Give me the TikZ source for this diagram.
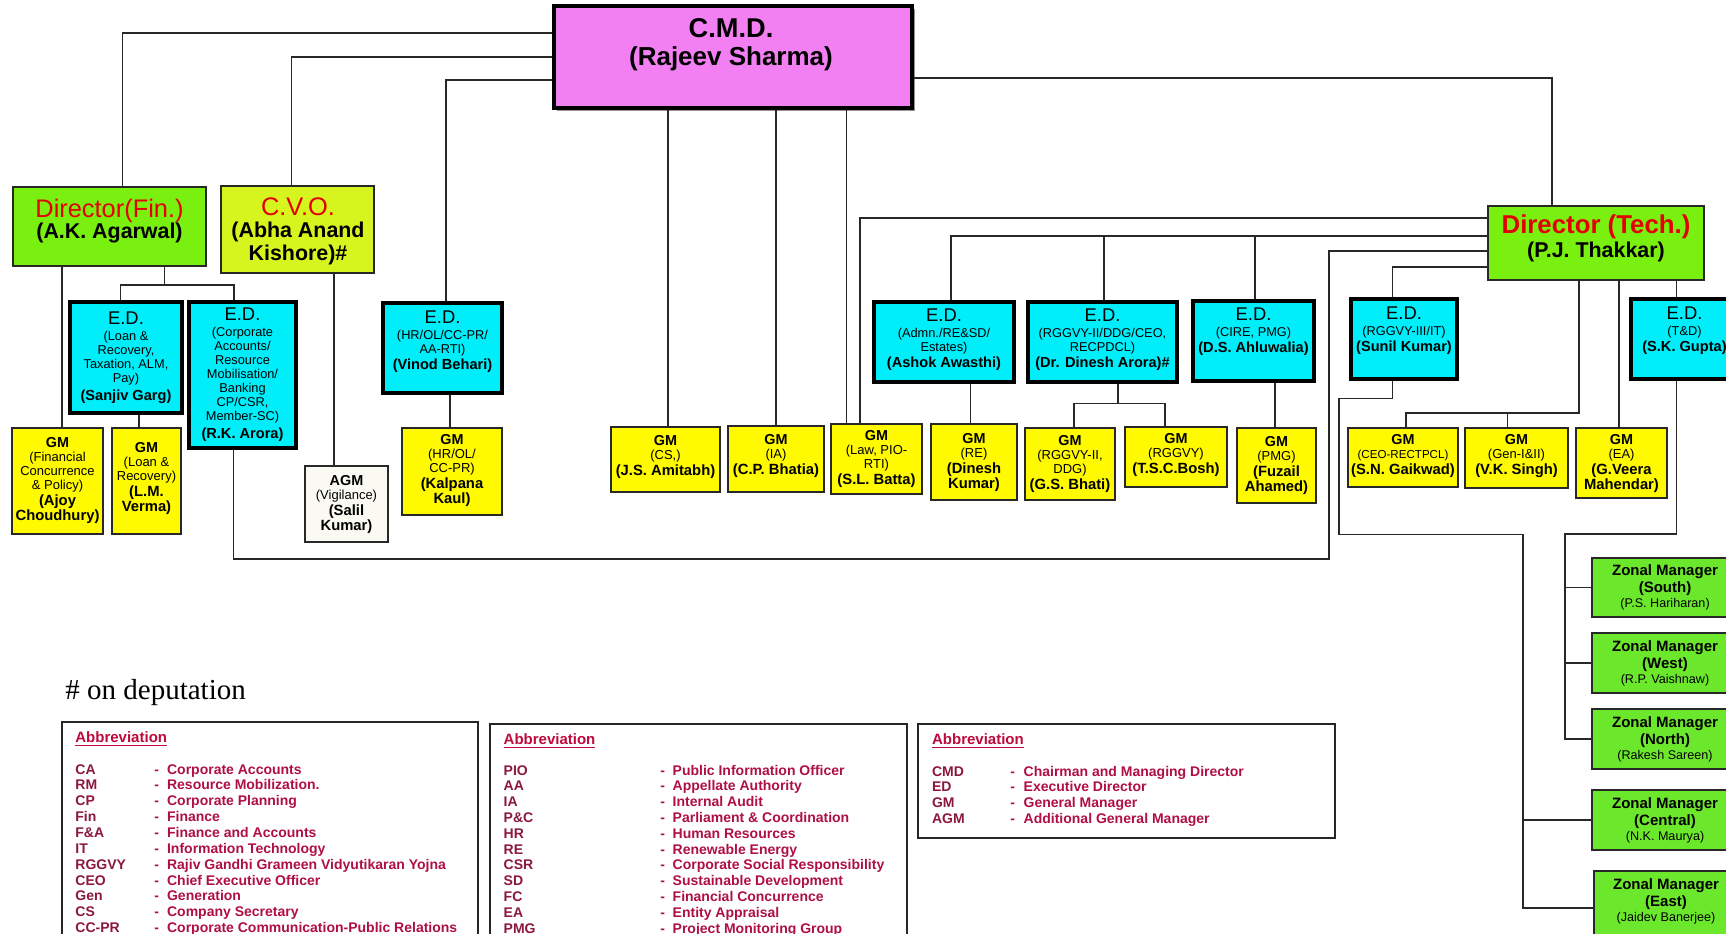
\documentclass[tikz,border=0pt]{standalone}
\usepackage{fontspec}
\setmainfont{Liberation Sans}
\newfontfamily\tms{Liberation Serif}
\usetikzlibrary{shadows}
\definecolor{cmdpink}{RGB}{242,128,242}
\definecolor{dgreen}{RGB}{122,240,16}
\definecolor{cvoyel}{RGB}{214,245,30}
\definecolor{edcyan}{RGB}{0,238,250}
\definecolor{gmyel}{RGB}{255,250,0}
\definecolor{agmw}{RGB}{250,250,242}
\definecolor{zgreen}{RGB}{108,232,44}
\definecolor{tred}{RGB}{228,0,0}
\definecolor{lgabbr}{RGB}{140,25,60}
\definecolor{lgdesc}{RGB}{175,15,70}
\definecolor{lghead}{RGB}{190,10,60}
\definecolor{lnc}{RGB}{40,40,40}
\newcommand\xE{\fontsize{9.2}{7}\selectfont}
\newcommand\xD{\fontsize{6.4}{7}\selectfont}
\newcommand\xN{\fontsize{7.3}{7}\selectfont\bfseries}
\newcommand\xG{\fontsize{7.2}{7}\selectfont\bfseries}
\newcommand\xGD{\fontsize{6.5}{7}\selectfont}
\newcommand\xGN{\fontsize{7.4}{7}\selectfont\bfseries}
\newcommand\xZ{\fontsize{7.5}{7}\selectfont\bfseries}
\newcommand\xZD{\fontsize{6.3}{7}\selectfont}
\newcommand\bxo[6]{\node[#2, minimum width={(#5-#3)*0.5pt}, minimum height={(#6-#4)*0.5pt}] (#1) at ({(#3+#5)/2},{(#4+#6)/2}) {};}
\newcommand\bx[8]{\bxo{#1}{#2}{#3}{#4}{#5}{#6}\node[txt] (#1T) at ({(#3+#5)/2},{(#4+#6)/2+#7}) {#8};}
\tikzset{
 obox/.style={draw=lnc, rectangle, inner sep=0pt},
 gmbox/.style={obox, fill=gmyel, line width=0.8pt},
 edbox/.style={obox, fill=edcyan, line width=1.8pt, draw=black},
 dirbox/.style={obox, fill=dgreen, line width=0.8pt},
 cvobox/.style={obox, fill=cvoyel, line width=0.8pt},
 agmbox/.style={obox, fill=agmw, line width=0.8pt},
 zbox/.style={obox, fill=zgreen, line width=0.9pt},
 cmdbox/.style={obox, fill=cmdpink, line width=1.6pt, draw=black, drop shadow={shadow xshift=1.6pt, shadow yshift=-1.6pt, fill=black!60, opacity=0.7}},
 legbox/.style={obox, line width=1pt, draw=black!85},
 txt/.style={align=center, inner sep=0pt, font=\fontsize{6.6}{7}\selectfont},
 conn/.style={draw=lnc, line width=0.8pt},
 lg/.style={anchor=base west, inner sep=0pt, font=\fontsize{7}{8}\selectfont\bfseries},
}
\begin{document}
\begin{tikzpicture}[x=0.5pt,y=-0.5pt]
\useasboundingbox (0,0) rectangle (1726,933);
\fill[white] (0,0) rectangle (1726,933);
\clip (0,0) rectangle (1726,933);

% top level
\bxo{cmd}{cmdbox}{554}{6}{912}{108}
\node[txt, font=\fontsize{13}{14}\selectfont\bfseries] (cmdT) at (731,45) {\fontsize{13.6}{14}\selectfont C.M.D.\\(Rajeev Sharma)};

\bxo{dfin}{dirbox}{13}{187}{206}{266}
\node[txt, font=\fontsize{10.7}{10.5}\selectfont] (dfinT) at (109.5,221) {\fontsize{12.7}{10.5}\selectfont\color{tred}Director(Fin.)\\\fontsize{10.7}{10.5}\selectfont\bfseries (A.K. Agarwal)};

\bxo{cvo}{cvobox}{221}{186}{374}{273}
\node[txt, font=\fontsize{10.7}{11.2}\selectfont] (cvoT) at (298,231) {\fontsize{12.7}{11.2}\selectfont\color{tred}C.V.O.\\\fontsize{10.7}{11.2}\selectfont\bfseries (Abha Anand\\\fontsize{10.7}{11.2}\selectfont\bfseries Kishore)\#};

\bxo{dtech}{dirbox}{1488}{206}{1704}{280}
\node[txt, font=\fontsize{10.7}{12}\selectfont] (dtechT) at (1596,238) {\fontsize{12.9}{12}\selectfont\bfseries\color{tred}Director (Tech.)\\\fontsize{10.7}{12}\selectfont\bfseries (P.J. Thakkar)};

% E.D. boxes
\bx{edloan}{edbox}{70}{302}{182}{413}{0}{\xE E.D.\\[1pt]\xD (Loan \&\\\xD Recovery,\\\xD Taxation, ALM,\\\xD Pay)\\[2pt]\xN (Sanjiv Garg)}
\bx{edcorp}{edbox}{189}{302}{296}{448}{0}{\xE E.D.\\[1pt]\xD (Corporate\\\xD Accounts/\\\xD Resource\\\xD Mobilisation/\\\xD Banking\\\xD CP/CSR,\\\xD Member-SC)\\[2pt]\xN (R.K. Arora)}
\bx{edhr}{edbox}{383}{303}{502}{393}{-6}{\xE E.D.\\[1pt]\xD (HR/OL/CC-PR/\\\xD AA-RTI)\\[1pt]\xN (Vinod Behari)}
\bx{edadmin}{edbox}{874}{302}{1014}{382}{-2}{\xE E.D.\\[1pt]\xD (Admn./RE\&SD/\\\xD Estates)\\[1pt]\xN (Ashok Awasthi)}
\bx{edrggvy2}{edbox}{1028}{302}{1177}{382}{-2}{\xE E.D.\\[1pt]\xD (RGGVY-II/DDG/CEO,\\\xD RECPDCL)\\[1pt]\xN (Dr. Dinesh Arora)\#}
\bx{edcire}{edbox}{1193}{301}{1314}{381}{-9}{\xE E.D.\\[1pt]\xD (CIRE, PMG)\\[1pt]\xN (D.S. Ahluwalia)}
\bx{edrggvy3}{edbox}{1351}{299}{1457}{379}{-8}{\xE E.D.\\[1pt]\xD (RGGVY-III/IT)\\[1pt]\xN (Sunil Kumar)}
\bx{edtd}{edbox}{1631}{299}{1738}{379}{-8}{\xE E.D.\\[1pt]\xD (T\&D)\\[1pt]\xN (S.K. Gupta)}

% GM boxes
\bx{gmfin}{gmbox}{12}{428}{103}{534}{-1}{\xG GM\\\xGD (Financial\\\xGD Concurrence\\\xGD \& Policy)\\[1pt]\xGN (Ajoy\\[0.5pt]\xGN Choudhury)}
\bx{gmloan}{gmbox}{112}{428}{181}{534}{-3}{\xG GM\\\xGD (Loan \&\\\xGD Recovery)\\[1pt]\xGN (L.M.\\[0.5pt]\xGN Verma)}
\bx{agm}{agmbox}{305}{466}{388}{542}{0}{\xG AGM\\\xGD (Vigilance)\\[1pt]\xGN (Salil\\[0.5pt]\xGN Kumar)}
\bx{gmhr}{gmbox}{402}{428}{502}{515}{-1}{\xG GM\\\xGD (HR/OL/\\\xGD CC-PR)\\[1pt]\xGN (Kalpana\\[0.5pt]\xGN Kaul)}
\bx{gmcs}{gmbox}{611}{427}{720}{492}{-3}{\xG GM\\\xGD (CS,)\\[1pt]\xGN (J.S. Amitabh)}
\bx{gmia}{gmbox}{728}{426}{824}{492}{-3}{\xG GM\\\xGD (IA)\\[1pt]\xGN (C.P. Bhatia)}
\bx{gmlaw}{gmbox}{831}{424}{922}{494}{0}{\xG GM\\\xGD (Law, PIO-\\\xGD RTI)\\[1pt]\xGN (S.L. Batta)}
\bx{gmre}{gmbox}{931}{424}{1017}{500}{0}{\xG GM\\\xGD (RE)\\[1pt]\xGN (Dinesh\\[0.5pt]\xGN Kumar)}
\bx{gmrggvy2}{gmbox}{1025}{428}{1115}{500}{0}{\xG GM\\\xGD (RGGVY-II,\\\xGD DDG)\\[1pt]\xGN (G.S. Bhati)}
\bx{gmrggvy}{gmbox}{1125}{427}{1227}{487}{-2}{\xG GM\\\xGD (RGGVY)\\[1pt]\xGN (T.S.C.Bosh)}
\bx{gmpmg}{gmbox}{1237}{428}{1316}{503}{0}{\xG GM\\\xGD (PMG)\\[1pt]\xGN (Fuzail\\[0.5pt]\xGN Ahamed)}
\bx{gmceo}{gmbox}{1348}{428}{1458}{487}{-2}{\xG GM\\\fontsize{5.8}{7}\selectfont (CEO-RECTPCL)\\[1pt]\xGN (S.N. Gaikwad)}
\bx{gmgen}{gmbox}{1465}{428}{1568}{488}{-2}{\xG GM\\\xGD (Gen-I\&II)\\[1pt]\xGN (V.K. Singh)}
\bx{gmea}{gmbox}{1576}{428}{1667}{498}{0}{\xG GM\\\xGD (EA)\\[1pt]\xGN (G.Veera\\[0.5pt]\xGN Mahendar)}

% zonal managers
\bx{zs}{zbox}{1592}{558}{1738}{617}{0}{\xZ Zonal Manager\\[0.5pt]\xZ (South)\\[0.5pt]\xZD (P.S. Hariharan)}
\bx{zw}{zbox}{1592}{633}{1738}{693}{0}{\xZ Zonal Manager\\[0.5pt]\xZ (West)\\[0.5pt]\xZD (R.P. Vaishnaw)}
\bx{zn}{zbox}{1592}{709}{1738}{769}{0}{\xZ Zonal Manager\\[0.5pt]\xZ (North)\\[0.5pt]\xZD (Rakesh Sareen)}
\bx{zc}{zbox}{1592}{790}{1738}{850}{0}{\xZ Zonal Manager\\[0.5pt]\xZ (Central)\\[0.5pt]\xZD (N.K. Maurya)}
\bx{ze}{zbox}{1594}{871}{1738}{945}{-7}{\xZ Zonal Manager\\[0.5pt]\xZ (East)\\[0.5pt]\xZD (Jaidev Banerjee)}

% elbow coordinates
\coordinate (j1) at (122.5,33);
\coordinate (j2) at (291.6,57);
\coordinate (j3) at (445.8,80);
\coordinate (j4) at (1552,78);
\coordinate (j5) at (668,0);
\coordinate (j6) at (776,0);
\coordinate (j7) at (846.5,0);
\coordinate (j8) at (860,218);
\coordinate (j9) at (951,236);
\coordinate (jA) at (1104,236);
\coordinate (jB) at (1254.7,236);
\coordinate (jC) at (1329,251);
\coordinate (jD) at (233.5,559);
\coordinate (jE) at (1392.5,267);
\coordinate (jF) at (1579,412.7);
\coordinate (jG) at (1406,412.7);
\coordinate (jH) at (1507.5,412.7);
\coordinate (jI) at (1619,0);
\coordinate (jJ) at (1676.5,0);
\coordinate (jK) at (62,0);
\coordinate (jL) at (164.6,285);
\coordinate (jM) at (120.5,285);
\coordinate (jN) at (233.8,285);
\coordinate (jO) at (139,0);
\coordinate (jP) at (333.7,0);
\coordinate (jQ) at (450,0);
\coordinate (jR) at (970.4,0);
\coordinate (jS) at (1117.7,403.3);
\coordinate (jT) at (1073.7,403.3);
\coordinate (jU) at (1164.8,403.3);
\coordinate (jV) at (1275,0);
\coordinate (jW) at (1392.5,398.3);
\coordinate (jX) at (1339,534.3);
\coordinate (jY) at (1523,0);
\coordinate (jZ) at (1676.4,0);
\coordinate (jZZ) at (1565,534);

% connectors
\draw[conn] (cmd.west |- j1) -| (dfin.north -| j1);
\draw[conn] (cmd.west |- j2) -| (cvo.north -| j2);
\draw[conn] (cmd.west |- j3) -| (edhr.north -| j3);
\draw[conn] (cmd.east |- j4) -| (dtech.north -| j4);
\draw[conn] (cmd.south -| j5) -- (gmcs.north -| j5);
\draw[conn] (cmd.south -| j6) -- (gmia.north -| j6);
\draw[conn] (cmd.south -| j7) -- (gmlaw.north -| j7);
\draw[conn] (dtech.west |- j8) -| (gmlaw.north -| j8);
\draw[conn] (dtech.west |- j9) -| (edadmin.north -| j9);
\draw[conn] (jA) -- (edrggvy2.north -| jA);
\draw[conn] (jB) -- (edcire.north -| jB);
\draw[conn] (dtech.west |- jC) -| (jC |- jD) -| (edcorp.south -| jD);
\draw[conn] (dtech.west |- jE) -| (edrggvy3.north -| jE);
\draw[conn] (dtech.south -| jF) -- (jF) -| (gmceo.north -| jG);
\draw[conn] (jH) -- (gmgen.north -| jH);
\draw[conn] (dtech.south -| jI) -- (gmea.north -| jI);
\draw[conn] (dtech.south -| jJ) -- (edtd.north -| jJ);
\draw[conn] (dfin.south -| jK) -- (gmfin.north -| jK);
\draw[conn] (dfin.south -| jL) -- (jL);
\draw[conn] (edloan.north -| jM) |- (jN) -- (edcorp.north -| jN);
\draw[conn] (edloan.south -| jO) -- (gmloan.north -| jO);
\draw[conn] (cvo.south -| jP) -- (agm.north -| jP);
\draw[conn] (edhr.south -| jQ) -- (gmhr.north -| jQ);
\draw[conn] (edadmin.south -| jR) -- (gmre.north -| jR);
\draw[conn] (edrggvy2.south -| jS) -- (jS);
\draw[conn] (gmrggvy2.north -| jT) |- (jU) -- (gmrggvy.north -| jU);
\draw[conn] (edcire.south -| jV) -- (gmpmg.north -| jV);
\draw[conn] (edrggvy3.south -| jW) -- (jW) -| (jX) -| (jY |- ze.west) -- (ze.west);
\draw[conn] (jY |- zc.west) -- (zc.west);
\draw[conn] (edtd.south -| jZ) |- (jZZ) |- (zn.west);
\draw[conn] (jZZ |- zs.west) -- (zs.west);
\draw[conn] (jZZ |- zw.west) -- (zw.west);

% footnote
\node[anchor=base west, inner sep=0pt, font={\tms\fontsize{14.5}{15}\selectfont}] (dep) at (65,699) {\# on deputation};

% legend boxes
\bxo{leg1}{legbox}{62}{722}{478}{950}
\bxo{leg2}{legbox}{490}{724}{907}{950}
\bxo{leg3}{legbox}{918}{724}{1335}{838}

\node[lg, font=\fontsize{7.5}{8}\selectfont\bfseries, text=lghead] (lh1) at (75,742.5) {\underline{Abbreviation}};
\node[lg, font=\fontsize{7.5}{8}\selectfont\bfseries, text=lghead] (lh2) at (503.3,744) {\underline{Abbreviation}};
\node[lg, font=\fontsize{7.5}{8}\selectfont\bfseries, text=lghead] (lh3) at (931.7,744.5) {\underline{Abbreviation}};

\foreach [count=\i from 0] \ab/\de in {CA/Corporate Accounts, RM/Resource Mobilization., CP/Corporate Planning, Fin/Finance, F\&A/Finance and Accounts, IT/Information Technology, RGGVY/Rajiv Gandhi Grameen Vidyutikaran Yojna, CEO/Chief Executive Officer, Gen/Generation, CS/Company Secretary, CC-PR/Corporate Communication-Public Relations}{
  \node[lg, text=lgabbr] (l1a\i) at (75,{774+15.87*\i}) {\ab};
  \node[lg, text=lgdesc] (l1s\i) at (154,{774+15.87*\i}) {-};
  \node[lg, text=lgdesc] (l1d\i) at (166.7,{774+15.87*\i}) {\de};
}
\foreach [count=\i from 0] \ab/\de in {PIO/Public Information Officer, AA/Appellate Authority, IA/Internal Audit, P\&C/Parliament \& Coordination, HR/Human Resources, RE/Renewable Energy, CSR/Corporate Social Responsibility, SD/Sustainable Development, FC/Financial Concurrence, EA/Entity Appraisal, PMG/Project Monitoring Group}{
  \node[lg, text=lgabbr] (l2a\i) at (503.3,{775+15.83*\i}) {\ab};
  \node[lg, text=lgdesc] (l2s\i) at (660,{775+15.83*\i}) {-};
  \node[lg, text=lgdesc] (l2d\i) at (672.3,{775+15.83*\i}) {\de};
}
\foreach [count=\i from 0] \ab/\de in {CMD/Chairman and Managing Director, ED/Executive Director, GM/General Manager, AGM/Additional General Manager}{
  \node[lg, text=lgabbr] (l3a\i) at (931.7,{776+15.8*\i}) {\ab};
  \node[lg, text=lgdesc] (l3s\i) at (1010,{776+15.8*\i}) {-};
  \node[lg, text=lgdesc] (l3d\i) at (1023.3,{776+15.8*\i}) {\de};
}
\end{tikzpicture}
\end{document}
